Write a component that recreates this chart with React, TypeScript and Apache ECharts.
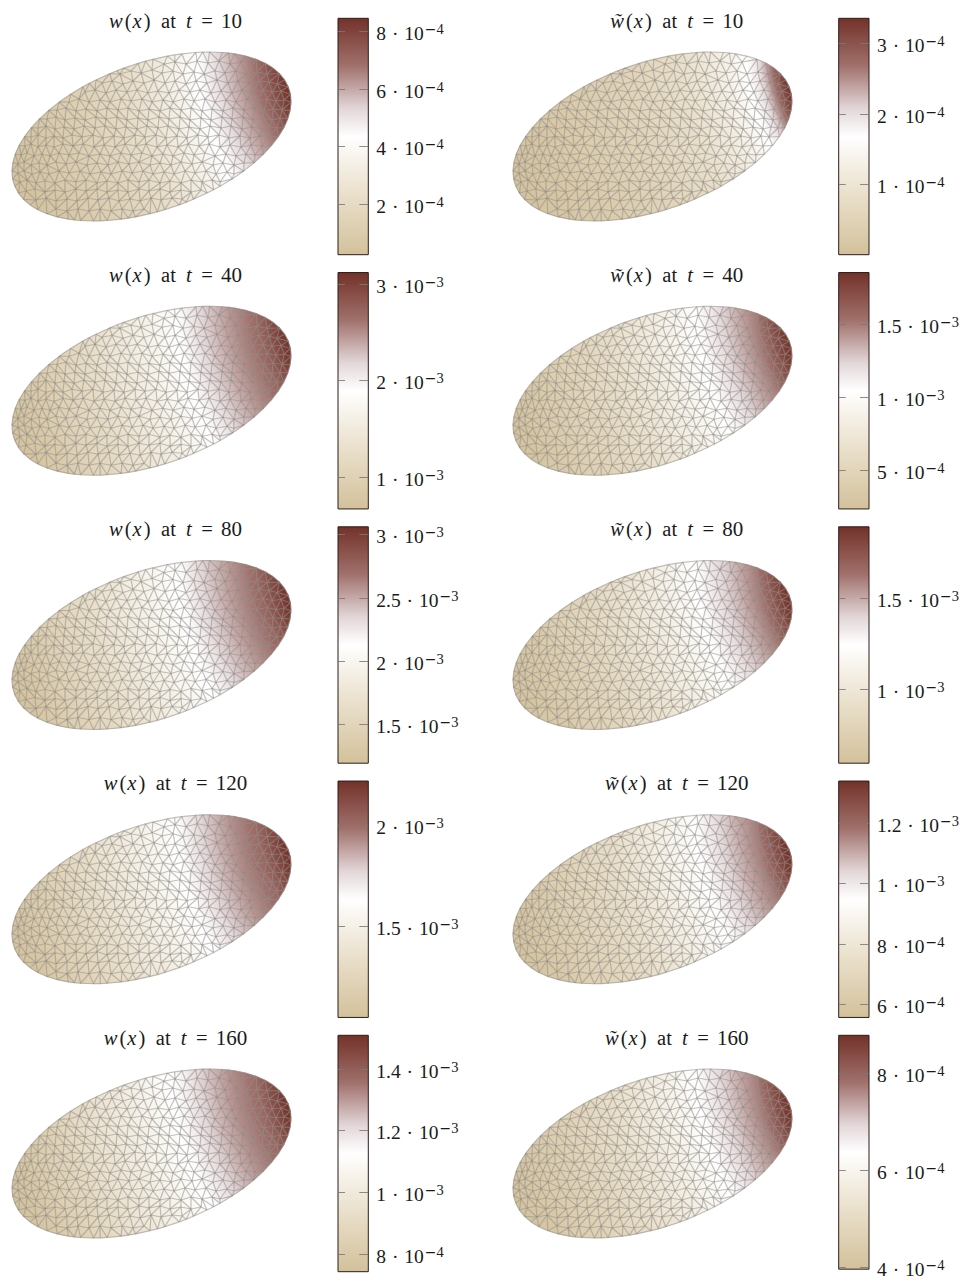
import React, { useEffect, useRef } from "react";
import * as echarts from "echarts";

// ---- mesh nodes of the elliptical domain, in picture units ----
const boundaryNodes: number[][] = [
  [266.4,84.5],[271.8,93.3],[275.7,102.1],[278.1,110.6],[279,118.9],[278.4,126.8],[276.2,134.2],[272.6,141],[267.5,147.3],[261,152.9],
  [253.2,157.7],[244.1,161.7],[233.8,164.9],[222.6,167.2],[210.4,168.5],[197.5,169],[183.9,168.5],[169.8,167.2],[155.4,164.9],[140.9,161.7],
  [126.3,157.7],[111.8,152.9],[97.7,147.3],[84,141],[70.9,134.2],[58.6,126.8],[47.2,118.9],[36.7,110.6],[27.5,102.1],[19.4,93.3],
  [12.6,84.5],[7.2,75.7],[3.3,66.9],[0.9,58.4],[0,50.1],[0.6,42.2],[2.8,34.8],[6.4,28],[11.5,21.7],[18,16.1],
  [25.8,11.3],[34.9,7.3],[45.2,4.1],[56.4,1.8],[68.6,0.5],[81.5,0],[95.1,0.5],[109.2,1.8],[123.6,4.1],[138.1,7.3],
  [152.7,11.3],[167.2,16.1],[181.3,21.7],[195,28],[208.1,34.8],[220.4,42.2],[231.8,50.1],[242.3,58.4],[251.5,66.9],[259.6,75.7],
  [216.6,168],[190.75,168.9],[162.65,166.1],[133.55,159.8],[104.7,150.2],[77.4,137.7],
  [62.4,1],[88.25,0.1],[116.35,2.9],[145.45,9.2],[174.3,18.8],[201.6,31.3],
];
const interiorNodes: number[][] = [
  [152,157],[163,159],[174,157],[185,160],[196,158],[207,160],[218,157],[229,159],
  [108,147],[119,150],[129,148],[140,151],[150,148],[161,150],[171,147],[182,149],[192,147],[203,150],[213,148],[224,150],[234,147],[245,149],[255,147],
  [90,138],[100,140],[111,137],[121,140],[132,138],[142,141],[153,138],[163,140],[174,137],[184,140],[195,138],[205,141],[216,138],[226,140],[237,138],[247,140],[257,139],[265,137],
  [73,129],[83,131],[94,128],[104,131],[115,129],[125,131],[136,128],[146,130],[157,128],[167,131],[178,129],[188,131],[199,128],[209,130],[220,128],[230,131],[241,129],[251,131],[260,129],[269,130],
  [57,119],[67,122],[77,119],[88,121],[98,119],[109,122],[119,120],[130,122],[140,119],[151,121],[161,119],[172,122],[182,120],[193,122],[203,119],[214,121],[224,119],[235,122],[245,120],[255,122],[264,120],[272,121],
  [45,111],[54,113],[64,110],[74,112],[85,110],[95,113],[106,111],[116,113],[127,110],[137,112],[148,110],[158,113],[169,111],[179,113],[190,110],[200,112],[211,110],[221,113],[232,111],[242,113],[252,110],[261,112],[270,111],
  [35,102],[44,104],[53,101],[63,103],[73,101],[84,104],[94,102],[105,104],[115,101],[126,103],[136,101],[147,104],[157,102],[168,104],[178,101],[189,103],[199,101],[210,104],[220,102],[231,104],[241,101],[251,103],[260,101],[268,103],
  [26,93],[34,95],[43,92],[52,94],[62,92],[72,95],[83,93],[93,95],[104,92],[114,94],[125,92],[135,95],[146,93],[156,95],[167,92],[177,94],[188,92],[198,95],[209,93],[219,95],[230,92],[240,94],[250,92],[258,94],[265,93],
  [19,84],[26,86],[34,83],[42,85],[51,83],[60,86],[70,84],[81,86],[91,83],[102,85],[112,83],[123,86],[133,84],[144,86],[154,83],[165,85],[175,83],[186,86],[196,84],[207,86],[217,83],[228,85],[238,83],[248,85],[256,84],
  [13,75],[19,77],[26,74],[34,76],[42,74],[51,77],[61,75],[71,77],[82,74],[92,76],[103,74],[113,77],[124,75],[134,77],[145,74],[155,76],[166,74],[176,77],[187,75],[197,77],[208,74],[218,76],[229,74],[239,76],[250,75],
  [9,66],[15,68],[22,65],[30,67],[38,65],[47,68],[57,66],[67,68],[77,65],[88,67],[98,65],[109,68],[119,66],[130,68],[140,65],[151,67],[161,65],[172,68],[182,66],[193,68],[203,65],[214,67],[224,65],[234,67],[243,66],
  [6,57],[12,59],[19,56],[27,58],[35,56],[44,59],[54,57],[64,59],[75,56],[85,58],[96,56],[106,59],[117,57],[127,59],[138,56],[148,58],[159,56],[169,59],[180,57],[190,59],[201,56],[211,58],[222,56],[232,58],
  [6,48],[12,50],[20,47],[28,49],[37,47],[47,50],[57,48],[68,50],[78,47],[89,49],[99,47],[110,50],[120,48],[131,50],[141,47],[152,49],[162,47],[173,50],[183,48],[194,50],[204,47],[215,49],[222,47],
  [8,39],[15,41],[24,38],[33,40],[43,38],[53,41],[64,39],[74,41],[85,38],[95,40],[106,38],[116,41],[127,39],[137,41],[148,38],[158,40],[169,38],[179,41],[190,39],[200,41],[208,39],
  [14,30],[23,32],[33,29],[43,31],[53,29],[64,32],[74,30],[85,32],[95,29],[106,31],[116,29],[127,32],[137,30],[148,32],[158,29],[169,31],[179,29],[189,31],
  [24,21],[34,23],[44,20],[55,22],[65,20],[76,23],[86,21],[97,23],[107,20],[118,22],[128,20],[139,23],[149,21],[160,23],[170,22],
  [44,12],[55,10],[66,12],[77,10],[88,12],[99,10],[110,12],[121,10],[132,12],
];

// ---- field values, at these distances from the hot end ----
const profileDistances = [0, 25, 50, 75, 100, 125, 150, 175, 200, 225, 250, 275, 300];
const sourcePoint = [469, 182];
const sourceOffset = 200;

const w10Values = [8.45e-4,6.9e-4,5.9e-4,4.75e-4,3.76e-4,2.94e-4,2.29e-4,1.79e-4,1.38e-4,1.05e-4,0.72e-4,0.39e-4,0.23e-4];
const wt10Values = [3.36e-4,1.95e-4,1.4e-4,1.08e-4,0.85e-4,0.68e-4,0.55e-4,0.45e-4,0.35e-4,0.24e-4,0.16e-4,0.08e-4,0.01e-4];
const w40Values = [3.12e-3,2.68e-3,2.48e-3,2.24e-3,1.94e-3,1.72e-3,1.55e-3,1.38e-3,1.2e-3,1.06e-3,0.88e-3,0.74e-3,0.66e-3];
const wt40Values = [1.85e-3,1.51e-3,1.32e-3,1.12e-3,0.96e-3,0.83e-3,0.72e-3,0.62e-3,0.52e-3,0.44e-3,0.36e-3,0.28e-3,0.23e-3];
const w80Values = [3.06e-3,2.73e-3,2.57e-3,2.39e-3,2.16e-3,2.01e-3,1.88e-3,1.75e-3,1.62e-3,1.51e-3,1.38e-3,1.25e-3,1.19e-3];
const wt80Values = [1.9e-3,1.62e-3,1.46e-3,1.31e-3,1.18e-3,1.07e-3,0.98e-3,0.9e-3,0.82e-3,0.76e-3,0.69e-3,0.63e-3,0.59e-3];
const w120Values = [2.22e-3,2.01e-3,1.92e-3,1.8e-3,1.66e-3,1.56e-3,1.48e-3,1.4e-3,1.32e-3,1.24e-3,1.16e-3,1.08e-3,1.05e-3];
const wt120Values = [1.34e-3,1.17e-3,1.085e-3,0.99e-3,0.91e-3,0.85e-3,0.79e-3,0.74e-3,0.7e-3,0.66e-3,0.62e-3,0.58e-3,0.56e-3];
const w160Values = [1.51e-3,1.37e-3,1.315e-3,1.24e-3,1.15e-3,1.09e-3,1.03e-3,0.98e-3,0.93e-3,0.87e-3,0.82e-3,0.76e-3,0.74e-3];
const wt160Values = [8.77e-4,7.72e-4,7.18e-4,6.6e-4,6.12e-4,5.73e-4,5.39e-4,5.1e-4,4.81e-4,4.57e-4,4.33e-4,4.09e-4,3.95e-4];

// ---- colour bars ----
const w10Ticks = [2e-4, 4e-4, 6e-4, 8e-4];
const wt10Ticks = [1e-4, 2e-4, 3e-4];
const w40Ticks = [1e-3, 2e-3, 3e-3];
const wt40Ticks = [5e-4, 1e-3, 1.5e-3];
const w80Ticks = [1.5e-3, 2e-3, 2.5e-3, 3e-3];
const wt80Ticks = [1e-3, 1.5e-3];
const w120Ticks = [1.5e-3, 2e-3];
const wt120Ticks = [6e-4, 8e-4, 1e-3, 1.2e-3];
const w160Ticks = [8e-4, 1e-3, 1.2e-3, 1.4e-3];
const wt160Ticks = [4e-4, 6e-4, 8e-4];

const barBounds = [
  [0.23e-4, 8.45e-4], [0.004e-4, 3.355e-4],
  [0.663e-3, 3.12e-3], [0.23e-3, 1.853e-3],
  [1.191e-3, 3.06e-3], [0.586e-3, 1.897e-3],
  [1.045e-3, 2.219e-3], [0.557e-3, 1.337e-3],
  [0.741e-3, 1.509e-3], [3.945e-4, 8.772e-4],
];
const times = ["10", "40", "80", "120", "160"];
const fieldValues = [w10Values, wt10Values, w40Values, wt40Values, w80Values, wt80Values, w120Values, wt120Values, w160Values, wt160Values];
const tickValues = [w10Ticks, wt10Ticks, w40Ticks, wt40Ticks, w80Ticks, wt80Ticks, w120Ticks, wt120Ticks, w160Ticks, wt160Ticks];

const colorMap: [number, number[]][] = [
  [0, [211, 193, 155]],
  [0.25, [233, 223, 202]],
  [0.5, [255, 255, 255]],
  [0.62, [226, 213, 215]],
  [0.8, [160, 112, 107]],
  [1, [115, 50, 41]],
];

function colorAt(f: number) {
  const t = Math.max(0, Math.min(1, f));
  for (let i = 1; i < colorMap.length; i++) {
    if (t <= colorMap[i][0]) {
      const [a, ca] = colorMap[i - 1];
      const [b, cb] = colorMap[i];
      const k = (t - a) / (b - a);
      return `rgb(${ca.map((c, j) => Math.round(c + (cb[j] - c) * k)).join(",")})`;
    }
  }
  return "rgb(115,50,41)";
}

function delaunay(pts: number[][]) {
  const all = pts.concat([[-2000, -2000], [3000, -2000], [140, 4000]]);
  const n = pts.length;
  let tris: any[] = [];
  const make = (a: number, b: number, c: number) => {
    const [ax, ay] = all[a], [bx, by] = all[b], [cx, cy] = all[c];
    const d = 2 * (ax * (by - cy) + bx * (cy - ay) + cx * (ay - by));
    const ux = ((ax * ax + ay * ay) * (by - cy) + (bx * bx + by * by) * (cy - ay) + (cx * cx + cy * cy) * (ay - by)) / d;
    const uy = ((ax * ax + ay * ay) * (cx - bx) + (bx * bx + by * by) * (ax - cx) + (cx * cx + cy * cy) * (bx - ax)) / d;
    return { v: [a, b, c], ux, uy, r2: (ax - ux) ** 2 + (ay - uy) ** 2 };
  };
  tris.push(make(n, n + 1, n + 2));
  for (let i = 0; i < n; i++) {
    const [x, y] = all[i];
    const bad: any[] = [];
    const good: any[] = [];
    for (const t of tris) ((x - t.ux) ** 2 + (y - t.uy) ** 2 < t.r2 ? bad : good).push(t);
    const edgeCount = new Map<string, number[]>();
    const seen = new Map<string, number>();
    for (const t of bad) {
      for (let k = 0; k < 3; k++) {
        const a = t.v[k], b = t.v[(k + 1) % 3];
        const key = a < b ? `${a}_${b}` : `${b}_${a}`;
        seen.set(key, (seen.get(key) || 0) + 1);
        edgeCount.set(key, [a, b]);
      }
    }
    tris = good;
    seen.forEach((c, key) => {
      if (c === 1) {
        const [a, b] = edgeCount.get(key)!;
        tris.push(make(a, b, i));
      }
    });
  }
  return tris.filter((t) => t.v.every((q: number) => q < n)).map((t) => t.v as number[]);
}

const serif = "'Liberation Serif', serif";
const ink = "#1a1a1a";
const labelRich = {
  b: { fontFamily: serif, fontSize: 19.5, color: ink, lineHeight: 20 },
  d: { fontFamily: serif, fontSize: 19.5, color: ink, lineHeight: 20, padding: [0, 1, 0, 1] },
  m: { fontFamily: "'DejaVu Sans'", fontSize: 14, color: ink, lineHeight: 14, padding: [0, 0, 9, 1] },
  e: { fontFamily: serif, fontSize: 14.5, color: ink, lineHeight: 14, padding: [0, 0, 9, 0] },
};
const titleBase = { fontFamily: serif, fontWeight: "normal", fontSize: 20.5, color: ink };
const titleRich = {
  w: { ...titleBase, fontStyle: "italic", padding: [0, 2, 0, 0] },
  x: { ...titleBase, fontStyle: "italic", padding: [0, 2, 0, 1] },
  r: { ...titleBase },
  at: { ...titleBase, padding: [0, 5, 0, 5.5] },
  t: { ...titleBase, fontStyle: "italic", padding: [0, 2.5, 0, 0] },
  eq: { ...titleBase, padding: [0, 3, 0, 2] },
  n: { ...titleBase, fontSize: 21 },
};

function tickLabel(v: number) {
  const exp = Math.floor(Math.log10(v) + 1e-9);
  const man = Number((v / Math.pow(10, exp)).toFixed(1));
  return `{b|${man}}{d| · }{b|10}{m|−}{e|${-exp}}`;
}

function buildOption() {
  const nodes = boundaryNodes.concat(interiorNodes);
  const tris = delaunay(nodes);
  const edgeSet = new Map<string, number[]>();
  tris.forEach((t) => {
    for (let k = 0; k < 3; k++) {
      const a = t[k], b = t[(k + 1) % 3];
      edgeSet.set(a < b ? `${a}_${b}` : `${b}_${a}`, [a, b]);
    }
  });
  const edges = Array.from(edgeSet.values());

  const grids: any[] = [], xAxes: any[] = [], yAxes: any[] = [], series: any[] = [], titles: any[] = [];

  fieldValues.forEach((values, idx) => {
    const row = Math.floor(idx / 2), col = idx % 2;
    const [vmin, vmax] = barBounds[idx];
    const frac = (v: number) => (v - vmin) / (vmax - vmin);
    const nodeF = nodes.map(([x, y]) => {
      const d = Math.hypot(x - sourcePoint[0], y - sourcePoint[1]) - sourceOffset;
      const dd = Math.max(0, Math.min(299.99, d));
      const i = Math.floor(dd / 25);
      const k = (dd - profileDistances[i]) / 25;
      return frac(values[i] + (values[i + 1] - values[i]) * k);
    });

    titles.push({
      text: `${col ? "{w|w̃}" : "{w|w}"}{r|(}{x|x}{r|)}{at| at }{t|t}{eq| = }{n|${times[row]}}`,
      left: 175.5 + col * 501.3,
      top: 22 + row * 254.25 - 12,
      textAlign: "center",
      padding: 0,
      textStyle: { rich: titleRich, fontFamily: serif, fontSize: 20, fontWeight: "normal" },
    });

    // mesh panel
    const gm = grids.length;
    grids.push({ left: 12 + col * 501, top: 52 + row * 254.25, width: 279, height: 169, show: false });
    xAxes.push({ gridIndex: gm, type: "value", min: 0, max: 279, show: false });
    const yMesh = yAxes.length;
    yAxes.push({ gridIndex: gm, type: "value", min: 0, max: 169, show: false });
    series.push({
      type: "custom", xAxisIndex: gm, yAxisIndex: yMesh, clip: false, silent: true,
      data: tris.map((t, i) => [(nodes[t[0]][0] + nodes[t[1]][0] + nodes[t[2]][0]) / 3, (nodes[t[0]][1] + nodes[t[1]][1] + nodes[t[2]][1]) / 3, i]),
      renderItem: (params: any, api: any) => {
        const t = tris[api.value(2)];
        const p = t.map((q) => api.coord(nodes[q]));
        const f = t.map((q) => nodeF[q]);
        const fmin = Math.min(...f), fmax = Math.max(...f);
        let fill: any;
        if (fmax - fmin < 1e-4) {
          fill = colorAt(fmin);
        } else {
          const e1x = p[1][0] - p[0][0], e1y = p[1][1] - p[0][1];
          const e2x = p[2][0] - p[0][0], e2y = p[2][1] - p[0][1];
          const df1 = f[1] - f[0], df2 = f[2] - f[0];
          const det = e1x * e2y - e1y * e2x;
          const gx = (df1 * e2y - df2 * e1y) / det, gy = (e1x * df2 - e2x * df1) / det;
          const g2 = gx * gx + gy * gy;
          const a = p[f.indexOf(fmin)];
          const span = fmax - fmin;
          const stops = [{ offset: 0, color: colorAt(fmin) }];
          colorMap.forEach(([pos]) => {
            if (pos > fmin && pos < fmax) stops.push({ offset: (pos - fmin) / span, color: colorAt(pos) });
          });
          stops.push({ offset: 1, color: colorAt(fmax) });
          fill = new echarts.graphic.LinearGradient(a[0], a[1], a[0] + (gx * span) / g2, a[1] + (gy * span) / g2, stops, true);
        }
        return { type: "polygon", shape: { points: p }, style: { fill, stroke: fill, lineWidth: 0.5 } };
      },
    });
    series.push({
      type: "custom", xAxisIndex: gm, yAxisIndex: yMesh, clip: false, silent: true, z: 3,
      data: edges.map((e, i) => [(nodes[e[0]][0] + nodes[e[1]][0]) / 2, (nodes[e[0]][1] + nodes[e[1]][1]) / 2, i]),
      renderItem: (params: any, api: any) => {
        const e = edges[api.value(2)];
        const a = api.coord(nodes[e[0]]), b = api.coord(nodes[e[1]]);
        return {
          type: "line",
          shape: { x1: a[0], y1: a[1], x2: b[0], y2: b[1] },
          style: { stroke: "rgba(140,138,132,0.52)", lineWidth: 1.2, fill: "none" },
        };
      },
    });

    // colour bar
    const gb = grids.length;
    grids.push({ left: 338 + col * 500.7, top: 18.3 + row * 254.25, width: 30.3, height: 236.4, show: false });
    xAxes.push({ gridIndex: gb, type: "value", min: 0, max: 1, show: false });
    const yBar = yAxes.length;
    const ticks = tickValues[idx];
    yAxes.push({
      gridIndex: gb, type: "value", position: "right", min: vmin, max: vmax,
      axisLine: { show: false }, splitLine: { show: false }, axisTick: { show: false },
      axisLabel: {
        show: true, margin: 8, customValues: ticks, formatter: (v: number) => tickLabel(v),
        rich: labelRich, padding: [5, 0, 0, 0], color: ink,
      },
    });
    series.push({
      type: "custom", xAxisIndex: gb, yAxisIndex: yBar, clip: false, silent: true,
      data: [[0, vmin, vmax]],
      renderItem: (params: any, api: any) => {
        const a = api.coord([0, api.value(2)]);
        const b = api.coord([1, api.value(1)]);
        return {
          type: "rect",
          shape: { x: a[0], y: a[1], width: b[0] - a[0], height: b[1] - a[1] },
          style: {
            fill: new echarts.graphic.LinearGradient(0, 1, 0, 0, colorMap.map(([pos]) => ({ offset: pos, color: colorAt(pos) }))),
            stroke: "#2b1d1a", lineWidth: 1,
          },
        };
      },
    });
    series.push({
      type: "custom", xAxisIndex: gb, yAxisIndex: yBar, clip: false, silent: true, z: 4,
      data: ticks.map((v) => [0, v]),
      renderItem: (params: any, api: any) => {
        const l = api.coord([0, api.value(1)]);
        const r = api.coord([1, api.value(1)]);
        const y = Math.round(l[1]) + 0.5;
        const style = { stroke: "rgba(120,120,120,0.85)", lineWidth: 1, fill: "none" };
        return {
          type: "group",
          children: [
            { type: "line", shape: { x1: l[0], y1: y, x2: l[0] + 7, y2: y }, style },
            { type: "line", shape: { x1: r[0] - 9, y1: y, x2: r[0], y2: y }, style },
          ],
        };
      },
    });
  });

  return { animation: false, backgroundColor: "#fff", title: titles, grid: grids, xAxis: xAxes, yAxis: yAxes, series };
}

export default function App() {
  const ref = useRef<HTMLDivElement>(null);
  useEffect(() => {
    const chart = echarts.init(ref.current!, undefined, { renderer: "svg" });
    chart.setOption(buildOption() as any);
    return () => chart.dispose();
  }, []);
  return <div ref={ref} style={{ position: "absolute", left: 0, top: 0, width: 967, height: 1281 }} />;
}
